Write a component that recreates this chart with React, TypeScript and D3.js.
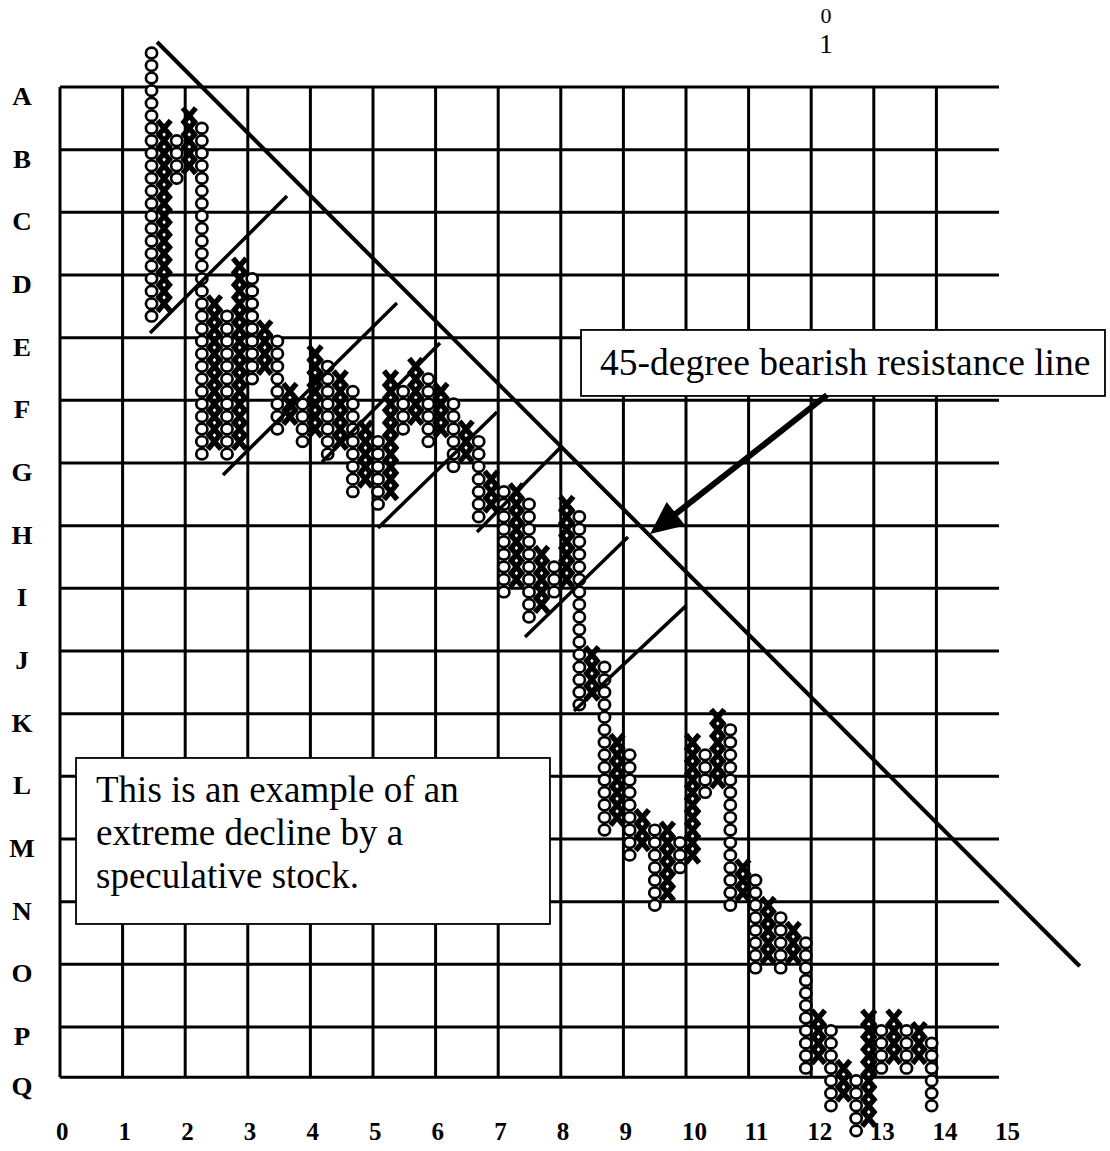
import React from "react";
import * as d3 from "d3";

// ---- data ----
const rowLabels = ["A", "B", "C", "D", "E", "F", "G", "H", "I", "J", "K", "L", "M", "N", "O", "P", "Q"];
const rowLinePositions = [0, 1, 2, 3, 4, 5, 6, 7, 8, 9, 10, 11, 12, 13, 14, 15, 15.8];
const colLabels = ["0", "1", "2", "3", "4", "5", "6", "7", "8", "9", "10", "11", "12", "13", "14", "15"];
const verticalGridPositions = [0, 1, 2, 3, 4, 5, 6, 7, 8, 9, 10, 11, 12, 13, 14];

// point & figure columns (box numbers counted downward from the top box); columns alternate O, X, O, ...
const colHigh = [0, 6, 7, 5, 6, 20, 21, 17, 18, 22, 23, 27, 28, 24, 25, 26, 27, 30, 31, 26, 27, 25, 26, 27, 28, 30, 31, 34, 35, 35, 36, 40, 41, 36, 37, 48, 49, 55, 56, 61, 62, 62, 63, 55, 56, 53, 54, 65, 66, 68, 69, 70, 71, 77, 78, 81, 82, 77, 78, 77, 78, 78, 79];
const colLow = [21, 20, 10, 9, 32, 31, 32, 31, 26, 25, 30, 29, 31, 30, 32, 31, 35, 34, 36, 35, 30, 29, 31, 30, 33, 32, 37, 36, 43, 42, 45, 44, 43, 42, 52, 51, 62, 61, 64, 63, 68, 67, 65, 64, 59, 58, 68, 67, 73, 72, 73, 72, 81, 80, 84, 83, 86, 85, 81, 80, 81, 80, 84];
const colKind = colHigh.map((_, i) => (i % 2 === 0 ? "O" : "X"));

// trend lines in grid units (x: column units, y: row units)
const resistanceLine = { x1: 1.55, y1: -0.718, x2: 16.29, y2: 14.03 };
const supportLines = [
  { x1: 1.438, y1: 3.925, x2: 3.626, y2: 1.739 },
  { x1: 2.604, y1: 6.19, x2: 5.383, y2: 3.447 },
  { x1: 4.185, y1: 5.984, x2: 6.07, y2: 4.085 },
  { x1: 5.08, y1: 7.037, x2: 6.981, y2: 5.186 },
  { x1: 6.661, y1: 7.1, x2: 7.987, y2: 5.76 },
  { x1: 7.428, y1: 8.776, x2: 9.073, y2: 7.18 },
  { x1: 8.211, y1: 9.957, x2: 10.0, y2: 8.28 },
];
const arrowLine = { x1: 12.252, y1: 4.915, x2: 9.425, y2: 7.134 };

const noteText = ["This is an example of an", "extreme decline by a", "speculative stock."];
const calloutText = "45-degree bearish resistance line";
const strayGlyphs = ["0", "1"];

// ---- layout ----
const W = 1110;
const H = 1151;
const FONT = "'Liberation Serif', 'Times New Roman', serif";

export default function App() {
  const x = d3.scaleLinear().domain([0, 15]).range([60, 999]);
  const y = d3.scaleLinear().domain([0, 15]).range([87, 1027]);
  const boxX = (i: number) => x(1.462 + i * 0.201);
  const boxY = (L: number) => y(-0.5425 + L * 0.2);

  const markers: React.ReactNode[] = [];
  colHigh.forEach((hi, i) => {
    const lo = colLow[i];
    const cx = boxX(i);
    for (let L = hi; L <= lo; L++) {
      const cy = boxY(L);
      if (colKind[i] === "O") {
        markers.push(
          <ellipse key={`o${i}-${L}`} cx={cx} cy={cy} rx={5.6} ry={5.3} fill="#fff" stroke="#000" strokeWidth={2.7} />
        );
      } else {
        const w = 6.6;
        const h = 7.8;
        markers.push(
          <path
            key={`x${i}-${L}`}
            d={`M${cx - w},${cy - h}L${cx + w},${cy + h}M${cx + w},${cy - h}L${cx - w},${cy + h}`}
            stroke="#000"
            strokeWidth={5.4}
            fill="none"
          />
        );
      }
    }
  });

  // arrow geometry
  const ax1 = x(arrowLine.x1), ay1 = y(arrowLine.y1), ax2 = x(arrowLine.x2), ay2 = y(arrowLine.y2);
  const len = Math.hypot(ax2 - ax1, ay2 - ay1);
  const ux = (ax2 - ax1) / len, uy = (ay2 - ay1) / len;
  const headL = 33, headW = 15;
  const bx = ax2 - ux * headL, by = ay2 - uy * headL;
  const head = `${ax2},${ay2} ${bx - uy * headW},${by + ux * headW} ${bx + uy * headW},${by - ux * headW}`;

  return (
    <div style={{ position: "absolute", left: 0, top: 0, width: W, height: H, background: "#fff" }}>
      <svg width={W} height={H} viewBox={`0 0 ${W} ${H}`} style={{ display: "block" }}>
        <rect width={W} height={H} fill="#fff" />
        {/* grid */}
        <g stroke="#000" strokeWidth={3}>
          {rowLinePositions.map((r, i) => (
            <line key={`h${i}`} x1={x(0)} x2={x(15)} y1={y(r)} y2={y(r)} />
          ))}
          {verticalGridPositions.map((c) => (
            <line key={`v${c}`} x1={x(c)} x2={x(c)} y1={y(0)} y2={y(15.8)} />
          ))}
        </g>
        {/* row labels */}
        <g fontFamily={FONT} fontWeight="bold" fontSize={25} textAnchor="middle">
          {rowLabels.map((lab, i) => (
            <text key={lab} x={22} y={y(rowLinePositions[i]) + 18} transform={`translate(22,0) scale(1.08,1) translate(-22,0)`}>
              {lab}
            </text>
          ))}
        </g>
        {/* column labels */}
        <g fontFamily={FONT} fontWeight="bold" fontSize={25} textAnchor="start">
          {colLabels.map((lab, i) => (
            <text key={lab} x={x(i) - 4} y={1140}>
              {lab}
            </text>
          ))}
        </g>
        {/* markers */}
        <g>{markers}</g>
        {/* trend lines */}
        <line
          x1={x(resistanceLine.x1)}
          y1={y(resistanceLine.y1)}
          x2={x(resistanceLine.x2)}
          y2={y(resistanceLine.y2)}
          stroke="#000"
          strokeWidth={4}
        />
        {supportLines.map((l, i) => (
          <line key={`s${i}`} x1={x(l.x1)} y1={y(l.y1)} x2={x(l.x2)} y2={y(l.y2)} stroke="#000" strokeWidth={3.5} />
        ))}
        {/* note box */}
        <rect x={x(0.256)} y={y(10.707)} width={x(7.827) - x(0.256)} height={y(13.356) - y(10.707)} fill="#fff" stroke="#000" strokeWidth={1.8} />
        <g fontFamily={FONT} fontSize={37}>
          {noteText.map((t, i) => (
            <text key={i} x={96} y={802 + i * 43}>
              {t}
            </text>
          ))}
        </g>
        {/* callout box */}
        <rect x={x(8.323)} y={y(3.877)} width={x(16.693) - x(8.323)} height={y(4.93) - y(3.877)} fill="#fff" stroke="#000" strokeWidth={1.8} />
        <text x={600} y={375} fontFamily={FONT} fontSize={37.5}>
          {calloutText}
        </text>
        {/* arrow */}
        <line x1={ax1} y1={ay1} x2={bx + ux * 4} y2={by + uy * 4} stroke="#000" strokeWidth={6} />
        <polygon points={head} fill="#000" />
        {/* stray glyphs at top */}
        <g fontFamily={FONT} textAnchor="middle">
          <text x={826} y={23} fontSize={22}>{strayGlyphs[0]}</text>
          <text x={826} y={53} fontSize={27}>{strayGlyphs[1]}</text>
        </g>
      </svg>
    </div>
  );
}
